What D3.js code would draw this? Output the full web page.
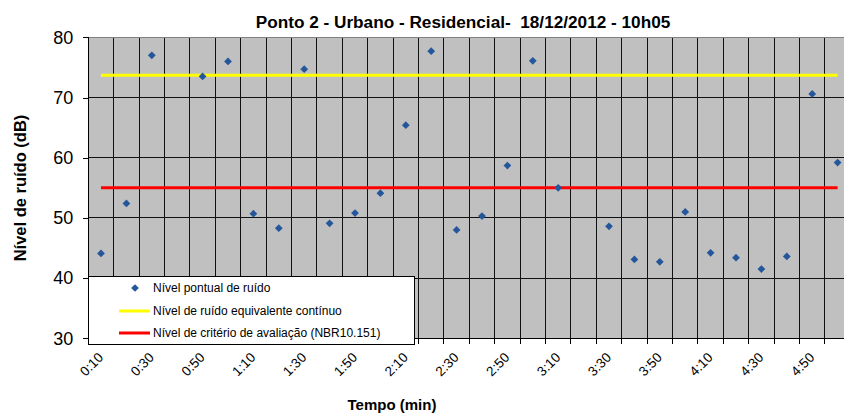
<!DOCTYPE html>
<html>
<head>
<meta charset="utf-8">
<script src="https://cdn.jsdelivr.net/npm/d3@7"></script>
<style>
  body { margin: 0; background: #fff; }
  text { font-family: "Liberation Sans", Arial, sans-serif; }
</style>
</head>
<body>
<div id="chart"></div>
<script>
// time of each reading
var tempos = ["0:10", "0:20", "0:30", "0:40", "0:50", "1:00", "1:10", "1:20", "1:30", "1:40",
  "1:50", "2:00", "2:10", "2:20", "2:30", "2:40", "2:50", "3:00", "3:10", "3:20",
  "3:30", "3:40", "3:50", "4:00", "4:10", "4:20", "4:30", "4:40", "4:50", "5:00"];
// measured noise level per reading (null = no reading)
var nivelPontual = [44.1, 52.4, 77.0, null, 73.5, 76.0, 50.7, 48.3, 74.7, 49.1,
  50.8, 54.1, 65.4, 77.7, 48.0, 50.3, 58.7, 76.1, 55.0, null,
  48.6, 43.1, 42.7, 51.0, 44.2, 43.4, 41.5, 43.6, 70.6, 59.2];
// equivalent continuous level and evaluation criterion
var nivelEquivalente = 73.7;
var nivelCriterio = 55;
var yTicks = [30, 40, 50, 60, 70, 80];
var legendaNomes = ["Nível pontual de ruído", "Nível de ruído equivalente contínuo",
  "Nível de critério de avaliação (NBR10.151)"];

var width = 844, height = 414;
var plotLeft = 88.3, plotTop = 37.3, plotBottom = 338.3, step = 25.4;
var plotRight = plotLeft + step * tempos.length;

var svg = d3.select("#chart").append("svg")
  .attr("width", width)
  .attr("height", height);

var x = d3.scaleBand()
  .domain(tempos)
  .range([plotLeft, plotRight])
  .padding(0);

var y = d3.scaleLinear()
  .domain([30, 80])
  .range([plotBottom, plotTop]);

// grey plot area
svg.append("rect")
  .attr("x", plotLeft).attr("y", plotTop)
  .attr("width", plotRight - plotLeft).attr("height", plotBottom - plotTop)
  .attr("fill", "#c0c0c0");

// vertical grid lines on band edges
var edges = tempos.map(function(d) { return x(d); }).concat([plotRight]);
svg.append("g").selectAll("line")
  .data(edges.slice(1))
  .enter().append("line")
  .attr("x1", d => d).attr("x2", d => d)
  .attr("y1", plotTop).attr("y2", plotBottom)
  .attr("stroke", "#111")
  .attr("shape-rendering", "crispEdges");

// horizontal grid lines
svg.append("g").selectAll("line")
  .data(yTicks.slice(1, -1))
  .enter().append("line")
  .attr("x1", plotLeft).attr("x2", plotRight)
  .attr("y1", d => y(d)).attr("y2", d => y(d))
  .attr("stroke", "#111")
  .attr("shape-rendering", "crispEdges");

// top border
svg.append("line")
  .attr("x1", plotLeft).attr("x2", plotRight)
  .attr("y1", y(80)).attr("y2", y(80))
  .attr("stroke", "#808080")
  .attr("shape-rendering", "crispEdges");

// y axis
var yAxis = d3.axisLeft(y)
  .tickValues(yTicks)
  .tickSize(5)
  .tickPadding(10);
var gy = svg.append("g")
  .attr("transform", "translate(" + plotLeft + ",0)")
  .call(yAxis);
gy.selectAll("line, path").attr("stroke", "#000").attr("shape-rendering", "crispEdges");
gy.select(".domain").attr("d", "M0," + plotTop + "V" + plotBottom);
gy.selectAll("text")
  .style("font-size", "18px")
  .attr("fill", "#000");

// x axis, ticks at band edges, labels every other reading
var gx = svg.append("g");
gx.append("line")
  .attr("x1", plotLeft).attr("x2", plotRight)
  .attr("y1", plotBottom).attr("y2", plotBottom)
  .attr("stroke", "#000")
  .attr("shape-rendering", "crispEdges");
gx.selectAll(".tk")
  .data(edges)
  .enter().append("line")
  .attr("class", "tk")
  .attr("x1", d => d).attr("x2", d => d)
  .attr("y1", plotBottom).attr("y2", plotBottom + 6)
  .attr("stroke", "#000")
  .attr("shape-rendering", "crispEdges");
gx.selectAll("text")
  .data(tempos.filter(function(d, i) { return i % 2 == 0; }))
  .enter().append("text")
  .attr("transform", function(d) {
    return "translate(" + (x(d) + x.bandwidth() / 2 + 3) + "," + (plotBottom + 20) + ") rotate(-45)";
  })
  .attr("text-anchor", "end")
  .style("font-size", "13.5px")
  .text(d => d);

// horizontal reference lines from first to last reading
var cx = d => x(d) + x.bandwidth() / 2;
svg.append("line")
  .attr("x1", cx(tempos[0])).attr("x2", cx(tempos[tempos.length - 1]))
  .attr("y1", y(nivelEquivalente)).attr("y2", y(nivelEquivalente))
  .attr("stroke", "#ffff00")
  .attr("stroke-width", 3);
svg.append("line")
  .attr("x1", cx(tempos[0])).attr("x2", cx(tempos[tempos.length - 1]))
  .attr("y1", y(nivelCriterio)).attr("y2", y(nivelCriterio))
  .attr("stroke", "#ff0000")
  .attr("stroke-width", 3);

// diamond markers
var diamond = d3.symbol().type(d3.symbolSquare).size(30);
svg.append("g").selectAll("path")
  .data(tempos.map(function(d, i) { return { t: d, v: nivelPontual[i] }; })
    .filter(d => d.v != null))
  .enter().append("path")
  .attr("d", diamond)
  .attr("transform", d => "translate(" + cx(d.t) + "," + y(d.v) + ") rotate(45)")
  .attr("fill", "#23569a");

// legend box
var leg = svg.append("g");
leg.append("rect")
  .attr("x", 88.5).attr("y", 276.5)
  .attr("width", 326).attr("height", 68)
  .attr("fill", "#fff")
  .attr("stroke", "#000");
leg.append("path")
  .attr("d", diamond)
  .attr("transform", "translate(135,288) rotate(45)")
  .attr("fill", "#23569a");
leg.append("line")
  .attr("x1", 119).attr("x2", 150).attr("y1", 311).attr("y2", 311)
  .attr("stroke", "#ffff00").attr("stroke-width", 3);
leg.append("line")
  .attr("x1", 119).attr("x2", 150).attr("y1", 333).attr("y2", 333)
  .attr("stroke", "#ff0000").attr("stroke-width", 3);
leg.selectAll("text")
  .data(legendaNomes)
  .enter().append("text")
  .attr("x", 153)
  .attr("y", (d, i) => 292 + i * 22.5)
  .style("font-size", "12px")
  .text(d => d);

// titles
svg.append("text")
  .attr("x", 463).attr("y", 28)
  .attr("text-anchor", "middle")
  .style("font-size", "17.2px")
  .style("font-weight", "bold")
  .style("white-space", "pre")
  .text("Ponto 2 - Urbano - Residencial-  18/12/2012 - 10h05");
svg.append("text")
  .attr("x", 392).attr("y", 410)
  .attr("text-anchor", "middle")
  .style("font-size", "15px")
  .style("font-weight", "bold")
  .text("Tempo (min)");
svg.append("text")
  .attr("transform", "translate(26,188) rotate(-90)")
  .attr("text-anchor", "middle")
  .style("font-size", "16.5px")
  .style("font-weight", "bold")
  .text("Nível de ruído (dB)");
</script>
</body>
</html>
